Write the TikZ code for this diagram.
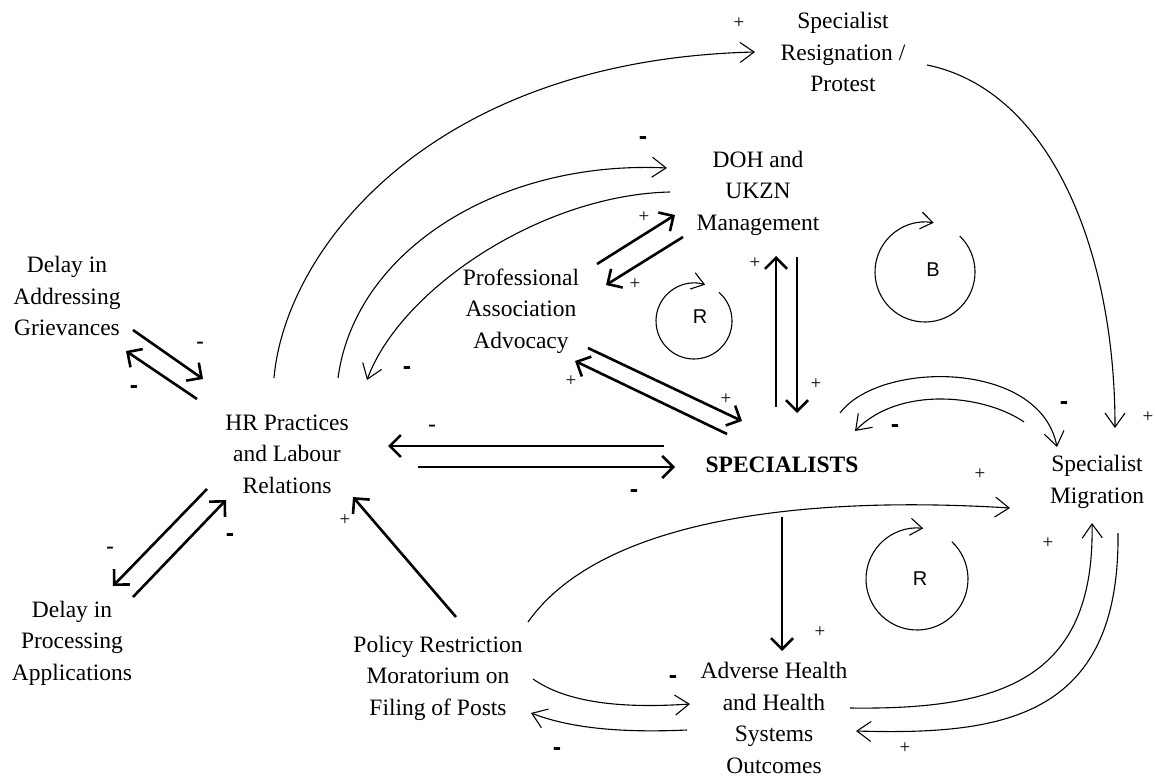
\documentclass[tikz,border=0pt]{standalone}
\usepackage{fontspec}
\setmainfont{Liberation Serif}
\newfontfamily\signfont{Liberation Sans}
\usetikzlibrary{arrows.meta,calc}
\tikzset{
  var/.style={align=center, inner sep=0pt, font=\fontsize{23.5}{31.5}\selectfont},
  strong link/.style={line width=2.6pt, -{Straight Barb[length=11pt,width=22pt]}},
  soft link/.style={line width=1.1pt, -{Straight Barb[length=14pt,width=20pt]}},
  looparc/.style={line width=1.1pt, -{Straight Barb[length=12pt,width=17pt]}},
  pos sign/.style={font=\fontsize{19}{19}\selectfont, inner sep=0pt},
  neg sign/.style={font=\signfont\bfseries\fontsize{25}{25}\selectfont, inner sep=0pt, yshift=-3pt},
  neg light/.style={font=\signfont\fontsize{24}{24}\selectfont, inner sep=0pt, yshift=-3pt},
  loop label/.style={font=\signfont\fontsize{20}{20}\selectfont, inner sep=0pt},
}
\begin{document}
\begin{tikzpicture}[x=1pt,y=1pt]
\useasboundingbox (0,0) rectangle (1155,-778);

% variables
\node[var] (res)  at (843,-52)  {Specialist\\Resignation /\\Protest};
\node[var] (doh)  at (758,-193) {DOH and\\UKZN\\Management};
\node[var] (prof) at (521,-311) {Professional\\Association\\Advocacy};
\node[var] (hr)   at (287,-454) {HR Practices\\and Labour\\Relations};
\node[var] (dag)  at (67,-296)  {Delay in\\Addressing\\Grievances};
\node[var] (dpa)  at (72,-643)  {Delay in\\Processing\\Applications};
\node[var] (spec) at (782,-465) {\textbf{SPECIALISTS}};
\node[var] (mig)  at (1097,-482) {Specialist\\Migration};
\node[var] (pol)  at (438,-678) {Policy Restriction\\Moratorium on\\Filing of Posts};
\node[var] (adv)  at (774,-718) {Adverse Health\\and Health\\Systems\\Outcomes};

% strong (straight) links
\draw[strong link] ($(dag)+(66,-34)$) -- ($(hr)+(-84,75)$);
\draw[strong link] ($(hr)+(-90,55)$) -- ($(dag)+(59,-55)$);
\draw[strong link] ($(hr)+(-80,-35)$) -- ($(dpa)+(41,57)$);
\draw[strong link] ($(dpa)+(61,46)$) -- ($(hr)+(-61,-46)$);
\draw[strong link] ($(spec)+(-118,19)$) -- ($(hr)+(101,8)$);
\draw[strong link] ($(hr)+(131,-13)$) -- ($(spec)+(-107,-2)$);
\draw[strong link] ($(pol)+(18,61)$) -- ($(hr)+(66,-43)$);
\draw[strong link] ($(prof)+(67,-37)$) -- ($(spec)+(-40,44)$);
\draw[strong link] ($(spec)+(-55,31)$) -- ($(prof)+(54,-50)$);
\draw[strong link] ($(prof)+(76,47)$) -- ($(doh)+(-83,-22)$);
\draw[strong link] ($(doh)+(-75,-44)$) -- ($(prof)+(85,26)$);
\draw[strong link] ($(spec)+(-6,58)$) -- ($(doh)+(18,-63)$);
\draw[strong link] ($(doh)+(39,-64)$) -- ($(spec)+(15,52)$);
\draw[strong link] ($(spec)+(0,-52)$) -- ($(adv)+(8,67)$);

% curved links
\draw[soft link] ($(hr)+(-13,76)$) .. controls (285,-250) and (430,-60) .. ($(res)+(-88,0)$);
\draw[soft link] ($(hr)+(51,76)$) .. controls (355,-250) and (500,-160) .. ($(doh)+(-91,25)$);
\draw[soft link] ($(doh)+(-88,1)$) .. controls (540,-195) and (400,-290) .. ($(hr)+(80,74)$);
\draw[soft link] ($(spec)+(58,52)$) .. controls (880,-360) and (1040,-360) .. ($(mig)+(-40,35)$);
\draw[soft link] ($(mig)+(-73,60)$) .. controls (985,-395) and (900,-385) .. ($(spec)+(73,34)$);
\draw[soft link] ($(res)+(84,-13)$) .. controls (1050,-90) and (1115,-250) .. ($(mig)+(18,54)$);
\draw[soft link] ($(pol)+(90,56)$) .. controls (600,-520) and (800,-495) .. ($(mig)+(-87,-26)$);
\draw[soft link] ($(pol)+(95,-1)$) .. controls (570,-705) and (630,-708) .. ($(adv)+(-84,14)$);
\draw[soft link] ($(adv)+(-87,-12)$) .. controls (620,-733) and (570,-728) .. ($(pol)+(93,-35)$);
\draw[soft link] ($(adv)+(76,10)$) .. controls (1000,-710) and (1095,-680) .. ($(mig)+(-5,-41)$);
\draw[soft link] ($(mig)+(21,-51)$) .. controls (1120,-720) and (1000,-735) .. ($(adv)+(82,-13)$);

% feedback loop markers
\coordinate (loopA) at (694,-321);
\coordinate (loopB) at (925,-272);
\coordinate (loopC) at (917,-579);
\draw[looparc] ([shift={(49:38pt)}]loopA) arc[start angle=49, end angle=-287, radius=38pt];
\draw[looparc] ([shift={(46:50pt)}]loopB) arc[start angle=46, end angle=-280, radius=50pt];
\draw[looparc] ([shift={(47:51pt)}]loopC) arc[start angle=47, end angle=-277, radius=51pt];
\node[loop label] (lA) at (700,-317) {R};
\node[loop label] (lB) at (933,-270) {B};
\node[loop label] (lC) at (920,-579) {R};

% polarity signs
\node[pos sign] (p1)  at (739,-23)  {+};
\node[pos sign] (p2)  at (644,-217) {+};
\node[pos sign] (p3)  at (635,-284) {+};
\node[pos sign] (p4)  at (755,-263) {+};
\node[pos sign] (p5)  at (816,-384) {+};
\node[pos sign] (p6)  at (726,-399) {+};
\node[pos sign] (p7)  at (571,-381) {+};
\node[pos sign] (p8)  at (345,-520) {+};
\node[pos sign] (p9)  at (820,-632) {+};
\node[pos sign] (p10) at (1148,-417) {+};
\node[pos sign] (p11) at (980,-474) {+};
\node[pos sign] (p12) at (1048,-543) {+};
\node[pos sign] (p13) at (905,-748) {+};

\node[neg sign] (n1) at (134,-387) {-};
\node[neg sign] (n2) at (230,-535) {-};
\node[neg sign] (n3) at (634,-491) {-};
\node[neg sign] (n4) at (643,-138) {-};
\node[neg sign] (n5) at (407,-368) {-};
\node[neg sign] (n6) at (1064,-403) {-};
\node[neg sign] (n7) at (895,-426) {-};
\node[neg sign] (n8) at (673,-677) {-};
\node[neg sign] (n9) at (557,-749) {-};
\node[neg light] (n10) at (200,-343) {-};
\node[neg light] (n11) at (110,-548) {-};
\node[neg light] (n12) at (432,-426) {-};
\end{tikzpicture}
\end{document}
